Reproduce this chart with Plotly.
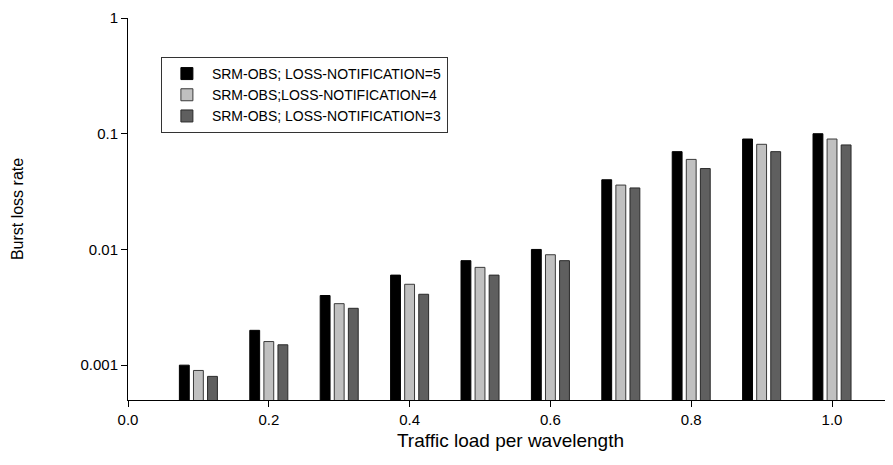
import plotly.graph_objects as go

loads = [0.1, 0.2, 0.3, 0.4, 0.5, 0.6, 0.7, 0.8, 0.9, 1.0]
series_names = [
    "SRM-OBS; LOSS-NOTIFICATION=5",
    "SRM-OBS;LOSS-NOTIFICATION=4",
    "SRM-OBS; LOSS-NOTIFICATION=3",
]
loss_n5 = [0.001, 0.002, 0.004, 0.006, 0.008, 0.010, 0.040, 0.070, 0.090, 0.100]
loss_n4 = [0.0009, 0.0016, 0.0034, 0.005, 0.007, 0.009, 0.036, 0.060, 0.081, 0.090]
loss_n3 = [0.0008, 0.0015, 0.0031, 0.0041, 0.006, 0.008, 0.034, 0.050, 0.070, 0.080]
x_ticks = [0.0, 0.2, 0.4, 0.6, 0.8, 1.0]
x_tick_labels = ["0.0", "0.2", "0.4", "0.6", "0.8", "1.0"]
y_ticks = [0.001, 0.01, 0.1, 1]
y_tick_labels = ["0.001", "0.01", "0.1", "1"]

fills = ["#000000", "#c0c0c0", "#5f5f5f"]
outlines = ["#000000", "#3a3a3a", "#2a2a2a"]

fig = go.Figure()
for name, vals, fc, lc in zip(series_names, [loss_n5, loss_n4, loss_n3], fills, outlines):
    fig.add_trace(go.Bar(
        x=loads, y=vals, name=name,
        marker=dict(color=fc, line=dict(color=lc, width=1)),
    ))

font_family = "Liberation Sans, Arial, sans-serif"
fig.update_layout(
    width=885, height=457,
    margin=dict(l=120, r=0, t=10, b=65),
    paper_bgcolor="white", plot_bgcolor="white",
    barmode="group", bargap=0.4, bargroupgap=0.3,
    font=dict(family=font_family, size=14, color="black"),
    showlegend=True,
    legend=dict(
        x=0.043, y=0.898, xanchor="left", yanchor="top",
        bgcolor="white", bordercolor="#333333", borderwidth=1,
        font=dict(size=14, family=font_family),
        itemwidth=40, tracegroupgap=0,
    ),
    xaxis=dict(
        range=[0, 1.0866], tickvals=x_ticks, ticktext=x_tick_labels,
        showline=True, linecolor="black", linewidth=1,
        ticks="outside", ticklen=6, tickcolor="black",
        showgrid=False, zeroline=False,
        title=dict(text="Traffic load per wavelength", font=dict(size=19), standoff=6),
        tickfont=dict(size=15),
    ),
    yaxis=dict(
        type="log", range=[-3.301, 0], tickvals=y_ticks, ticktext=y_tick_labels,
        showline=True, linecolor="black", linewidth=1,
        ticks="outside", ticklen=6, tickcolor="black",
        showgrid=False, zeroline=False,
        title=dict(text="Burst loss rate", font=dict(size=16), standoff=52),
        tickfont=dict(size=15),
    ),
)

fig.write_html("out.html")
